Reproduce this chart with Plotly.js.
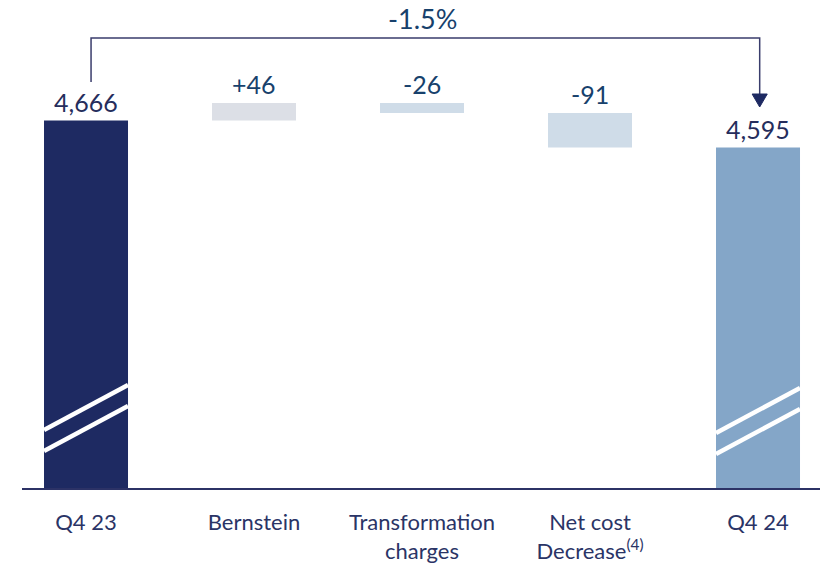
<!DOCTYPE html>
<html>
<head>
<meta charset="utf-8">
<script src="https://cdn.plot.ly/plotly-3.0.1.min.js"></script>
<style>html,body{margin:0;padding:0;background:#fff;}#chart{width:820px;height:564px;}</style>
</head>
<body>
<div id="chart"></div>
<script>
// ---- data ----
var categories = ['Q4 23', 'Bernstein', 'Transformation<br>charges', 'Net cost<br>Decrease<sup>(4)</sup>', 'Q4 24'];
var startValue = 4666;
var deltas = [46, -26, -91];
var endValue = 4595;
var valueLabels = ['4,666', '+46', '-26', '-91', '4,595'];
var changeLabel = '-1.5%';
var axisMin = 3700;

// ---- build waterfall geometry from data ----
var bases = [], heights = [];
bases.push(axisMin); heights.push(startValue - axisMin);
var running = startValue;
deltas.forEach(function (d) {
  var next = running + d;
  bases.push(Math.min(running, next));
  heights.push(Math.abs(d));
  running = next;
});
bases.push(axisMin); heights.push(endValue - axisMin);
var tops = bases.map(function (b, i) { return b + heights[i]; });

var colors = ['#1e2a62', '#dcdfe6', '#cfdce8', '#cfdce8', '#84a6c8'];
var xs = categories.map(function (c, i) { return i; });

var trace = {
  type: 'bar',
  x: xs,
  y: heights,
  base: bases,
  width: 0.5,
  marker: { color: colors, line: { width: 0 } },
  hoverinfo: 'skip'
};

var labelColors = ['#252d5c', '#17416c', '#17416c', '#17416c', '#252d5c'];
var annotations = valueLabels.map(function (t, i) {
  return {
    x: i, y: tops[i], xref: 'x', yref: 'y', text: t, showarrow: false,
    yanchor: 'bottom', yshift: 2,
    font: { family: 'Lato, "Noto Sans", sans-serif', size: 25, color: labelColors[i] }
  };
});

// scale helpers (px per unit)
var plotH = 488;
var yMax = 4983;
function pxToVal(px) { return axisMin + (plotH - px) * (yMax - axisMin) / plotH; }

var yLeftStart = pxToVal(82);
var yBracketTop = pxToVal(38);
var yArrowBase = pxToVal(94);
var yArrowTip = pxToVal(107);
var xL = 0.03, xR = 4.01, hw = 0.045;

annotations.push({
  x: 2, y: yBracketTop, xref: 'x', yref: 'y', text: changeLabel, showarrow: false,
  yanchor: 'bottom', yshift: 1,
  font: { family: 'Lato, "Noto Sans", sans-serif', size: 27, color: '#17416c' }
});

var shapes = [
  { type: 'path', xref: 'x', yref: 'y',
    path: 'M ' + xL + ',' + yLeftStart + ' L ' + xL + ',' + yBracketTop + ' L ' + xR + ',' + yBracketTop + ' L ' + xR + ',' + yArrowBase,
    line: { color: '#3a3d6c', width: 1.5 } },
  { type: 'path', xref: 'x', yref: 'y',
    path: 'M ' + (xR - hw) + ',' + yArrowBase + ' L ' + (xR + hw) + ',' + yArrowBase + ' L ' + xR + ',' + yArrowTip + ' Z',
    fillcolor: '#1e2a62', line: { color: '#1e2a62', width: 1 } }
];
// axis-break marks on the two total bars
[[0, 0], [4, 1]].forEach(function (p) {
  var i = p[0], off = p[1] * 3;
  shapes.push({ type: 'line', xref: 'x', yref: 'y', x0: i - 0.25, x1: i + 0.25,
    y0: pxToVal(430 + off), y1: pxToVal(385 + off), line: { color: '#ffffff', width: 4.5 } });
  shapes.push({ type: 'line', xref: 'x', yref: 'y', x0: i - 0.25, x1: i + 0.25,
    y0: pxToVal(451 + off), y1: pxToVal(406 + off), line: { color: '#ffffff', width: 4.5 } });
});

var layout = {
  width: 820, height: 564,
  margin: { l: 22, r: 0, t: 0, b: 76 },
  paper_bgcolor: '#ffffff', plot_bgcolor: '#ffffff',
  showlegend: false,
  xaxis: {
    range: [-0.381, 4.369],
    tickmode: 'array', tickvals: xs, ticktext: categories,
    showline: true, linecolor: '#2c3266', linewidth: 2,
    showgrid: false, zeroline: false, ticks: '',
    ticklabelstandoff: 14,
    tickfont: { family: 'Lato, "Noto Sans", sans-serif', size: 22, color: '#2a3466' },
    fixedrange: true
  },
  yaxis: {
    range: [axisMin, yMax], visible: false, showgrid: false, zeroline: false, fixedrange: true
  },
  annotations: annotations,
  shapes: shapes
};

Plotly.newPlot('chart', [trace], layout, { displayModeBar: false, staticPlot: true });
</script>
</body>
</html>
